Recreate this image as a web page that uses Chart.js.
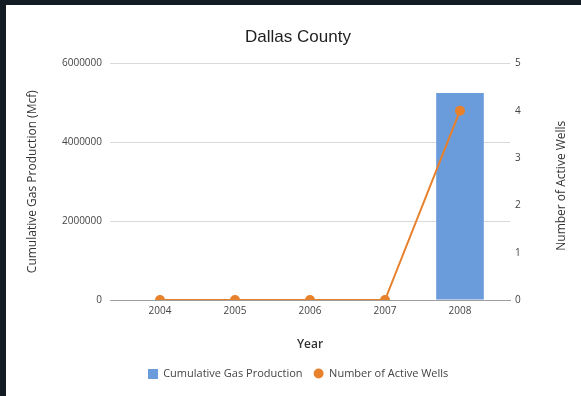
<!DOCTYPE html>
<html>
<head>
<meta charset="utf-8">
<script src="https://cdn.jsdelivr.net/npm/chart.js@4"></script>
<style>
  html, body { margin: 0; padding: 0; width: 581px; height: 396px; overflow: hidden; background: #131b23; }
  #panel { position: absolute; left: 6px; top: 5px; width: 584px; height: 391px; background: #ffffff; }
  canvas { display: block; }
</style>
</head>
<body>
<div id="panel"><canvas id="chart" width="584" height="391"></canvas></div>
<script>
// Yearly figures for Dallas County
const years = [2004, 2005, 2006, 2007, 2008];
const gasProduction = [0, 0, 0, 0, 5250000];   // cumulative gas production, Mcf
const activeWells = [0, 0, 0, 0, 4];           // number of active wells
const gasTicks = [0, 2000000, 4000000, 6000000];
const wellTicks = [0, 1, 2, 3, 4, 5];

const FONT = "'Open Sans', sans-serif";
const BLUE = '#6a9bdb';
const ORANGE = '#e8812c';

// square swatch for the bar series in the legend
const swatch = document.createElement('canvas');
swatch.width = 10; swatch.height = 10;
{
  const g = swatch.getContext('2d');
  g.fillStyle = BLUE;
  g.fillRect(0, 0, 10, 10);
}

// right-hand axis title, reading bottom to top
const wellsTitle = {
  id: 'wellsTitle',
  afterDraw(chart) {
    const { ctx, chartArea } = chart;
    const s = chart.scales.y1;
    ctx.save();
    ctx.translate(s.left + 52, (chartArea.top + chartArea.bottom) / 2 + 4);
    ctx.rotate(-Math.PI / 2);
    ctx.textAlign = 'center';
    ctx.textBaseline = 'middle';
    ctx.font = `12px ${FONT}`;
    ctx.fillStyle = '#333333';
    ctx.fillText('Number of Active Wells', 0, 0);
    ctx.restore();
  }
};

const fixTicks = list => scale => { scale.ticks = list.map(v => ({ value: v })); };

new Chart(document.getElementById('chart'), {
  type: 'bar',
  data: {
    datasets: [
      {
        label: 'Cumulative Gas Production',
        data: years.map((y, i) => ({ x: y, y: gasProduction[i] })),
        backgroundColor: BLUE,
        borderWidth: 0,
        yAxisID: 'y',
        order: 2,
        categoryPercentage: 1,
        barPercentage: 0.635,
        pointStyle: swatch
      },
      {
        type: 'line',
        label: 'Number of Active Wells',
        data: years.map((y, i) => ({ x: y, y: activeWells[i] })),
        borderColor: ORANGE,
        backgroundColor: ORANGE,
        borderWidth: 2,
        pointRadius: 5,
        pointBorderWidth: 0,
        pointBackgroundColor: ORANGE,
        pointStyle: 'circle',
        yAxisID: 'y1',
        order: 1,
        clip: { left: 8, right: 8, top: 8, bottom: 0 }
      }
    ]
  },
  options: {
    responsive: false,
    animation: false,
    devicePixelRatio: 1,
    layout: { padding: { left: 0, right: 0, top: 0, bottom: 7 } },
    plugins: {
      title: {
        display: true,
        text: 'Dallas County',
        font: { family: "'Liberation Sans', Arial, sans-serif", size: 17, weight: 'normal' },
        color: '#1f1f1f',
        padding: { top: 22, bottom: 16 }
      },
      legend: {
        position: 'bottom',
        labels: {
          usePointStyle: true,
          boxWidth: 10,
          boxHeight: 7,
          padding: 11,
          font: { family: FONT, size: 11 },
          color: '#444444',
          sort: (a, b) => a.datasetIndex - b.datasetIndex
        }
      },
      tooltip: { enabled: false }
    },
    scales: {
      x: {
        type: 'linear',
        min: 2003.3333,
        max: 2008.6667,
        offset: false,
        afterBuildTicks: fixTicks(years),
        afterFit: s => { s.height = 57; },
        grid: { display: false, drawTicks: false },
        border: { display: true, color: '#9e9e9e', width: 1 },
        ticks: { padding: 5, font: { family: FONT, size: 10 }, color: '#444444', callback: v => String(v) },
        title: { display: true, text: 'Year', font: { family: FONT, size: 12, weight: '600' }, color: '#333333', padding: { top: 0, bottom: 5 } }
      },
      y: {
        position: 'left',
        min: 0,
        max: 6000000,
        afterBuildTicks: fixTicks(gasTicks),
        afterFit: s => { s.width = 104; },
        grid: { color: '#d9d9d9', drawTicks: false },
        border: { display: false },
        ticks: { padding: 8, font: { family: FONT, size: 10 }, color: '#444444', callback: v => String(v) },
        title: { display: true, text: 'Cumulative Gas Production (Mcf)', font: { family: FONT, size: 12 }, color: '#333333', padding: { top: 19, bottom: 0 } }
      },
      y1: {
        position: 'right',
        min: 0,
        max: 5,
        afterBuildTicks: fixTicks(wellTicks),
        afterFit: s => { s.width = 80; },
        grid: { display: false, drawTicks: false },
        border: { display: false },
        ticks: { padding: 5, font: { family: FONT, size: 10 }, color: '#444444', callback: v => String(v) }
      }
    }
  },
  plugins: [wellsTitle]
});
</script>
</body>
</html>
